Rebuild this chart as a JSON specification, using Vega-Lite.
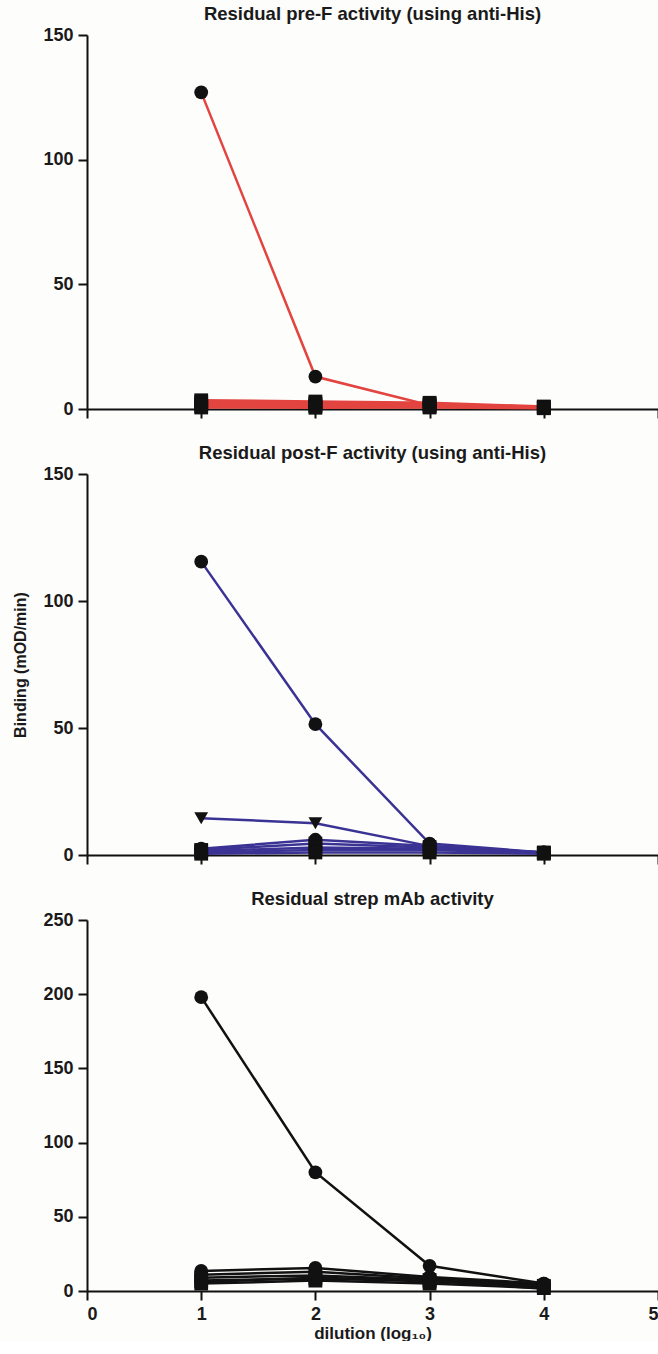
{
  "$schema": "https://vega.github.io/schema/vega-lite/v6.json",
  "background": "#fdfdfc",
  "padding": {"left": 12, "top": 4, "right": 0, "bottom": 0},
  "spacing": 24,
  "config": {
    "font": "Liberation Sans",
    "view": {"stroke": null},
    "axis": {
      "grid": false,
      "domainColor": "#111111",
      "domainWidth": 2,
      "tickColor": "#111111",
      "tickWidth": 2,
      "tickSize": 9,
      "labelFont": "Liberation Sans",
      "labelFontWeight": "bold",
      "labelFontSize": 18,
      "labelColor": "#1a1a1a",
      "labelPadding": 5,
      "titleFont": "Liberation Sans",
      "titleFontWeight": "bold",
      "titleFontSize": 16,
      "titleColor": "#1a1a1a"
    },
    "title": {"font": "Liberation Sans", "fontSize": 18.5, "fontWeight": "bold", "color": "#1a1a1a", "offset": 3}
  },
  "datasets": {
    "pre": [
      {"series": "a", "dilution": 1, "binding": 127},
      {"series": "a", "dilution": 2, "binding": 13},
      {"series": "a", "dilution": 3, "binding": 1.5},
      {"series": "a", "dilution": 4, "binding": 0.5},
      {"series": "b", "dilution": 1, "binding": 3.5},
      {"series": "b", "dilution": 2, "binding": 3},
      {"series": "b", "dilution": 3, "binding": 2.5},
      {"series": "b", "dilution": 4, "binding": 1},
      {"series": "c", "dilution": 1, "binding": 2.8},
      {"series": "c", "dilution": 2, "binding": 2.3},
      {"series": "c", "dilution": 3, "binding": 2},
      {"series": "c", "dilution": 4, "binding": 0.8},
      {"series": "d", "dilution": 1, "binding": 2},
      {"series": "d", "dilution": 2, "binding": 1.7},
      {"series": "d", "dilution": 3, "binding": 1.5},
      {"series": "d", "dilution": 4, "binding": 0.6},
      {"series": "e", "dilution": 1, "binding": 1.3},
      {"series": "e", "dilution": 2, "binding": 1.1},
      {"series": "e", "dilution": 3, "binding": 1},
      {"series": "e", "dilution": 4, "binding": 0.4},
      {"series": "f", "dilution": 1, "binding": 0.6},
      {"series": "f", "dilution": 2, "binding": 0.5},
      {"series": "f", "dilution": 3, "binding": 0.6},
      {"series": "f", "dilution": 4, "binding": 0.3}
    ],
    "post": [
      {"series": "a", "dilution": 1, "binding": 115.5},
      {"series": "a", "dilution": 2, "binding": 51.5},
      {"series": "a", "dilution": 3, "binding": 4.5},
      {"series": "a", "dilution": 4, "binding": 1},
      {"series": "b", "dilution": 1, "binding": 14.5},
      {"series": "b", "dilution": 2, "binding": 12.5},
      {"series": "b", "dilution": 3, "binding": 3.5},
      {"series": "b", "dilution": 4, "binding": 1},
      {"series": "c", "dilution": 1, "binding": 2.5},
      {"series": "c", "dilution": 2, "binding": 6},
      {"series": "c", "dilution": 3, "binding": 3.5},
      {"series": "c", "dilution": 4, "binding": 1},
      {"series": "d", "dilution": 1, "binding": 2},
      {"series": "d", "dilution": 2, "binding": 4.5},
      {"series": "d", "dilution": 3, "binding": 3},
      {"series": "d", "dilution": 4, "binding": 1},
      {"series": "e", "dilution": 1, "binding": 1.5},
      {"series": "e", "dilution": 2, "binding": 3},
      {"series": "e", "dilution": 3, "binding": 2.5},
      {"series": "e", "dilution": 4, "binding": 0.8},
      {"series": "f", "dilution": 1, "binding": 1},
      {"series": "f", "dilution": 2, "binding": 2},
      {"series": "f", "dilution": 3, "binding": 2},
      {"series": "f", "dilution": 4, "binding": 0.8},
      {"series": "g", "dilution": 1, "binding": 0.5},
      {"series": "g", "dilution": 2, "binding": 1},
      {"series": "g", "dilution": 3, "binding": 1},
      {"series": "g", "dilution": 4, "binding": 0.5}
    ],
    "strep": [
      {"series": "a", "dilution": 1, "binding": 198},
      {"series": "a", "dilution": 2, "binding": 80},
      {"series": "a", "dilution": 3, "binding": 17},
      {"series": "a", "dilution": 4, "binding": 5},
      {"series": "b", "dilution": 1, "binding": 13.5},
      {"series": "b", "dilution": 2, "binding": 15.5},
      {"series": "b", "dilution": 3, "binding": 9.5},
      {"series": "b", "dilution": 4, "binding": 5},
      {"series": "c", "dilution": 1, "binding": 11},
      {"series": "c", "dilution": 2, "binding": 13},
      {"series": "c", "dilution": 3, "binding": 8.5},
      {"series": "c", "dilution": 4, "binding": 4},
      {"series": "d", "dilution": 1, "binding": 9},
      {"series": "d", "dilution": 2, "binding": 10.5},
      {"series": "d", "dilution": 3, "binding": 7.5},
      {"series": "d", "dilution": 4, "binding": 3.5},
      {"series": "e", "dilution": 1, "binding": 7},
      {"series": "e", "dilution": 2, "binding": 8.5},
      {"series": "e", "dilution": 3, "binding": 6.5},
      {"series": "e", "dilution": 4, "binding": 3},
      {"series": "f", "dilution": 1, "binding": 5},
      {"series": "f", "dilution": 2, "binding": 7},
      {"series": "f", "dilution": 3, "binding": 5},
      {"series": "f", "dilution": 4, "binding": 2},
      {"series": "g", "dilution": 1, "binding": 6},
      {"series": "g", "dilution": 2, "binding": 9},
      {"series": "g", "dilution": 3, "binding": 7},
      {"series": "g", "dilution": 4, "binding": 1.5}
    ]
  },
  "vconcat": [
    {
      "title": "Residual pre-F activity (using anti-His)",
      "width": 571,
      "height": 374,
      "data": {"name": "pre"},
      "encoding": {
        "x": {"field": "dilution", "type": "quantitative", "scale": {"domain": [0, 5], "nice": false},
              "axis": {"values": [0, 1, 2, 3, 4, 5], "labels": false, "title": null}},
        "y": {"field": "binding", "type": "quantitative", "scale": {"domain": [0, 150], "nice": false},
              "axis": {"values": [0, 50, 100, 150], "title": null}}
      },
      "layer": [
        {"mark": {"type": "line", "color": "#e2443f", "strokeWidth": 2.5},
         "encoding": {"detail": {"field": "series"}, "order": {"field": "dilution"}}},
        {"mark": {"type": "point", "filled": true, "color": "#111111", "opacity": 1, "size": 190},
         "encoding": {"shape": {"field": "series", "type": "nominal", "legend": null,
            "scale": {"domain": ["a", "b", "c", "d", "e", "f"], "range": ["circle", "square", "square", "square", "square", "square"]}}}}
      ]
    },
    {
      "title": "Residual post-F activity (using anti-His)",
      "width": 571,
      "height": 381,
      "data": {"name": "post"},
      "encoding": {
        "x": {"field": "dilution", "type": "quantitative", "scale": {"domain": [0, 5], "nice": false},
              "axis": {"values": [0, 1, 2, 3, 4, 5], "labels": false, "title": null}},
        "y": {"field": "binding", "type": "quantitative", "scale": {"domain": [0, 150], "nice": false},
              "axis": {"values": [0, 50, 100, 150], "title": "Binding (mOD/min)", "titlePadding": 14}}
      },
      "layer": [
        {"mark": {"type": "line", "color": "#3b3394", "strokeWidth": 2.5},
         "encoding": {"detail": {"field": "series"}, "order": {"field": "dilution"}}},
        {"mark": {"type": "point", "filled": true, "color": "#111111", "opacity": 1, "size": 190},
         "encoding": {"shape": {"field": "series", "type": "nominal", "legend": null,
            "scale": {"domain": ["a", "b", "c", "d", "e", "f", "g"], "range": ["circle", "triangle-down", "circle", "square", "square", "triangle-up", "square"]}}}}
      ]
    },
    {
      "title": "Residual strep mAb activity",
      "width": 571,
      "height": 371,
      "data": {"name": "strep"},
      "encoding": {
        "x": {"field": "dilution", "type": "quantitative", "scale": {"domain": [0, 5], "nice": false},
              "axis": {"values": [0, 1, 2, 3, 4, 5], "title": "dilution (log₁₀)", "titleFontSize": 17, "titlePadding": 2}},
        "y": {"field": "binding", "type": "quantitative", "scale": {"domain": [0, 250], "nice": false},
              "axis": {"values": [0, 50, 100, 150, 200, 250], "title": null}}
      },
      "layer": [
        {"mark": {"type": "line", "color": "#111111", "strokeWidth": 2.5},
         "encoding": {"detail": {"field": "series"}, "order": {"field": "dilution"}}},
        {"mark": {"type": "point", "filled": true, "color": "#111111", "opacity": 1, "size": 190},
         "encoding": {"shape": {"field": "series", "type": "nominal", "legend": null,
            "scale": {"domain": ["a", "b", "c", "d", "e", "f", "g"], "range": ["circle", "circle", "circle", "square", "square", "square", "triangle-up"]}}}}
      ]
    }
  ],
  "resolve": {"scale": {"shape": "independent", "x": "independent", "y": "independent"}}
}
